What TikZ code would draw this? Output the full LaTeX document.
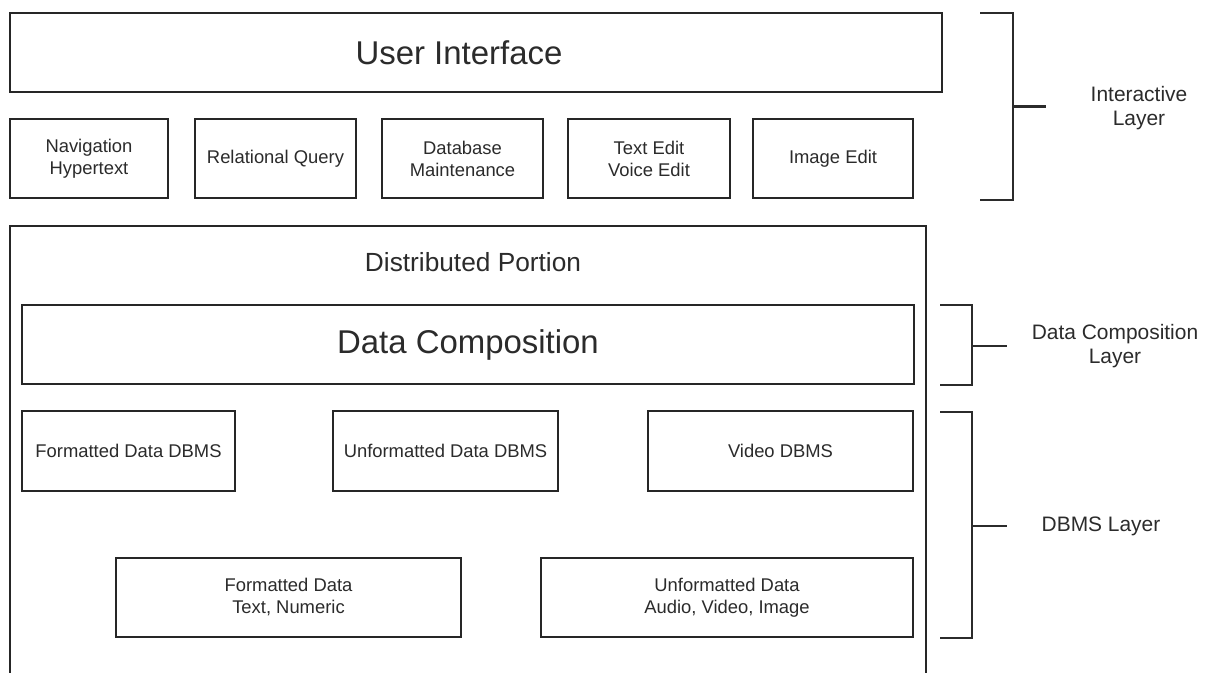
\documentclass[tikz,border=0pt]{standalone}
\usepackage{fontspec}
\setmainfont{Liberation Sans}
\usepackage{xcolor}
\usepackage{tikz}

\definecolor{ink}{HTML}{2B2B2B}
\definecolor{edge}{HTML}{262626}

\begin{document}
\begin{tikzpicture}[x=0.75pt, y=-0.75pt,
  box/.style 2 args={draw=edge, line width=0.9pt, fill=white, text=ink,
    align=center, inner sep=0pt,
    minimum width=#1*0.75pt, minimum height=#2*0.75pt},
  small/.style={font=\fontsize{13.8}{16.5}\selectfont},
  big/.style={font=\fontsize{24.7}{29}\selectfont},
  tag/.style={text=ink, align=center, font=\fontsize{15.7}{18.5}\selectfont},
  brace/.style={draw=ink, line width=2pt}]
\useasboundingbox (0,0) rectangle (1208,673);

% interactive layer
\node[box={932}{79}] (ui) at (476,52.5) {};
\node[text=ink, big] (uitxt) at (459,52.5) {User Interface};
\node[box={158}{79}, small] (nav) at (89,158.5) {Navigation\\Hypertext};
\node[box={161}{79}, small] (rel) at (275.5,158.5) {Relational Query};
\node[box={161}{79}, small] (dbm) at (462.5,158.5) {Database\\Maintenance};
\node[box={162}{79}, small] (txt) at (649,158.5) {Text Edit\\Voice Edit};
\node[box={160}{79}, small] (img) at (833,158.5) {Image Edit};

% distributed portion, open at the bottom
\draw[draw=edge, line width=1pt] (10,673) -- (10,226) -- (926,226) -- (926,673);
\node[text=ink, font=\fontsize{19.7}{23}\selectfont] (dist) at (473,262) {Distributed Portion};

\node[box={892}{79}, big] (comp) at (468,344.5) {Data Composition};
\node[box={213}{80}, small] (fdb) at (128.5,451) {Formatted Data DBMS};
\node[box={225}{80}, small] (udb) at (445.5,451) {Unformatted Data DBMS};
\node[box={265}{80}, small] (vdb) at (780.5,451) {Video DBMS};
\node[box={345}{79}, small] (ftx) at (288.5,597.5) {Formatted Data\\Text, Numeric};
\node[box={372}{79}, small] (uav) at (727,597.5) {Unformatted Data\\Audio, Video, Image};

% layer brackets
\coordinate (ia) at (1013,106.5);
\draw[brace] (980,13) -- (1013,13) -- (1013,200) -- (980,200);
\draw[brace] (ia) -- ++(33,0);
\node[tag] (ilay) at (1139,108) {Interactive\\Layer};

\coordinate (ca) at (972,346);
\draw[brace] (940,305) -- (972,305) -- (972,385) -- (940,385);
\draw[brace] (ca) -- ++(35,0);
\node[tag] (clay) at (1115,346) {Data Composition\\Layer};

\coordinate (da) at (972,526);
\draw[brace] (940,412) -- (972,412) -- (972,638) -- (940,638);
\draw[brace] (da) -- ++(35,0);
\node[tag] (dlay) at (1101,526) {DBMS Layer};

\end{tikzpicture}
\end{document}
